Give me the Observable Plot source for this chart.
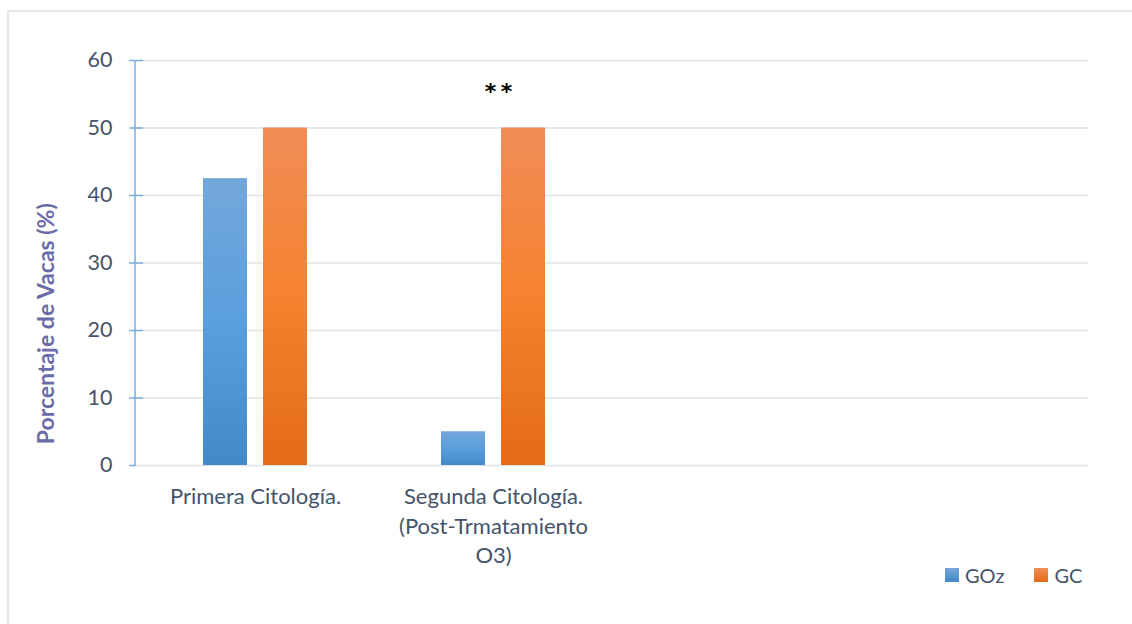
<!DOCTYPE html>
<html>
<head>
<meta charset="utf-8">
<script src="https://cdn.jsdelivr.net/npm/d3@7"></script>
<script src="https://cdn.jsdelivr.net/npm/@observablehq/plot@0.6"></script>
<style>
  html, body { margin: 0; padding: 0; background: #fff; width: 1132px; height: 624px; overflow: hidden; }
  #frame { position: absolute; left: 7px; top: 10px; width: 1300px; height: 800px;
           border-left: 2px solid #e3e6ea; border-top: 2px solid #e3e6ea; }
  #chart { position: absolute; left: 0; top: 0; }
  #legend { position: absolute; left: 945px; top: 563px; display: flex; align-items: center;
            font-family: Lato, "Open Sans", sans-serif; font-size: 20px; color: #44546a; }
  .item { display: flex; align-items: center; }
  .item + .item { margin-left: 30px; }
  .sw { display: inline-block; width: 14px; height: 14px; margin-right: 6px; }
</style>
</head>
<body>
<div id="frame"></div>
<div id="chart"></div>
<div id="legend"></div>
<script>
// ---- data ----
const categories = ["Primera Citología.", "Segunda Citología.\n(Post-Trmatamiento\nO3)", "cat3", "cat4"];
const categoryLabels = ["Primera Citología.", "Segunda Citología.\n(Post-Trmatamiento\nO3)", "", ""];
const series = ["GOz", "GC"];
const gozValues = [42.5, 5, null, null];
const gcValues = [50, 50, null, null];
const yTicks = [0, 10, 20, 30, 40, 50, 60];
const yTitle = "Porcentaje de Vacas (%)";
const significance = [{cat: categories[1], label: "*\u2009*"}];

const table = [];
categories.forEach((c, i) => {
  table.push({cat: c, series: "GOz", value: gozValues[i]});
  table.push({cat: c, series: "GC", value: gcValues[i]});
});
const labelMap = new Map(categories.map((c, i) => [c, categoryLabels[i]]));

const W = 1132, H = 600;
const mL = 135, mR = 43, mT = 60, mB = H - 465;

const svg = Plot.plot({
  width: W, height: H,
  marginLeft: mL, marginRight: mR, marginTop: mT, marginBottom: mB,
  style: {fontFamily: "Lato, 'Open Sans', sans-serif", fontSize: "20px", color: "#44546a", background: "transparent"},
  fx: {domain: categories, padding: 0, label: null},
  x: {domain: series, paddingInner: 0.262, paddingOuter: 1.086, axis: null},
  y: {domain: [0, 60], label: null},
  color: {domain: series, range: ["url(#gGOz)", "url(#gGC)"]},
  marks: [
    Plot.ruleY(yTicks, {stroke: "#dfe3e9", strokeWidth: 1.6}),
    Plot.barY(table, {fx: "cat", x: "series", y: "value", fill: "series"}),
    Plot.axisY(yTicks, {tickSize: 7, tickPadding: 17, stroke: "#7aaee0", strokeWidth: 1.5, fill: "#44546a", fontSize: 21.5, label: null}),
    Plot.axisY(yTicks.slice(1), {tickSize: -7, tickFormat: () => "", stroke: "#7aaee0", strokeWidth: 1.5, label: null}),
    Plot.axisFx({anchor: "bottom", tickSize: 0, tickPadding: 18, tickFormat: (d) => labelMap.get(d), fontSize: 22, lineHeight: 1.34, fill: "#44546a", label: null}),
    Plot.text([{cat: categories[0], t: yTitle}], {fx: "cat", y: 21, text: "t", rotate: -90, frameAnchor: "left", textAnchor: "middle", dx: -90, fontWeight: "bold", fill: "#6b6ba8", fontSize: 23}),
    Plot.text(significance, {fx: "cat", y: 55.3, text: "label", frameAnchor: "middle", dx: 5, fontSize: 22, fontWeight: "bold", fontFamily: "DejaVu Sans", fill: "#000"})
  ]
});

// gradients for bars
const defs = d3.select(svg).insert("defs", ":first-child");
function grad(id, stops) {
  const g = defs.append("linearGradient").attr("id", id).attr("x1", 0).attr("y1", 0).attr("x2", 0).attr("y2", 1);
  stops.forEach(([o, c]) => g.append("stop").attr("offset", o).attr("stop-color", c));
}
grad("gGOz", [[0, "#73a7db"], [0.5, "#5a9fdd"], [1, "#4488c8"]]);
grad("gGC", [[0, "#f18d57"], [0.5, "#f5822e"], [1, "#e46b17"]]);

// vertical axis line from the y scale
const ys = svg.scale("y");
d3.select(svg).append("line")
  .attr("x1", mL).attr("x2", mL)
  .attr("y1", ys.apply(0)).attr("y2", ys.apply(60))
  .attr("stroke", "#7aaee0").attr("stroke-width", 1.5);

document.getElementById("chart").appendChild(svg);

// legend
const legendColors = {GOz: "linear-gradient(#73a7db, #4488c8)", GC: "linear-gradient(#f18d57, #e46b17)"};
const leg = document.getElementById("legend");
series.forEach(s => {
  const it = document.createElement("div"); it.className = "item";
  const sw = document.createElement("span"); sw.className = "sw"; sw.style.background = legendColors[s];
  const tx = document.createElement("span"); tx.textContent = s;
  it.appendChild(sw); it.appendChild(tx); leg.appendChild(it);
});
</script>
</body>
</html>
